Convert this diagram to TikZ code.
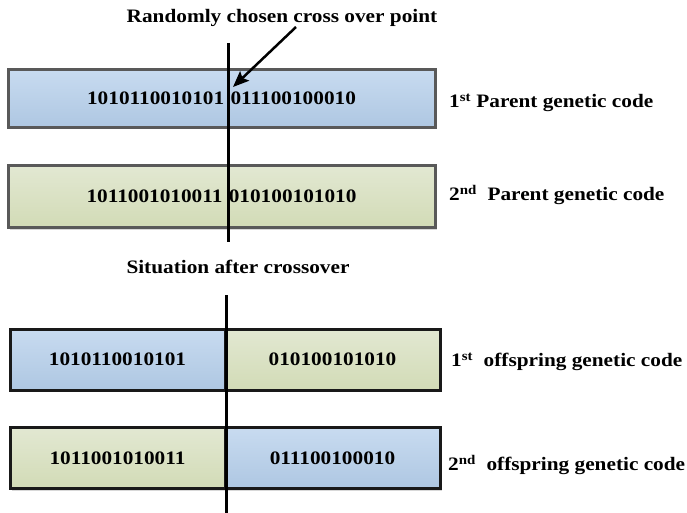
\documentclass[tikz,border=0pt]{standalone}
\usepackage{fontspec}
\setmainfont{Liberation Serif}[FakeStretch=1.12]
\usetikzlibrary{arrows.meta,shadows}
\definecolor{blueTop}{HTML}{C8DBF0}
\definecolor{blueBot}{HTML}{AEC7E2}
\definecolor{greenTop}{HTML}{E2E8D2}
\definecolor{greenBot}{HTML}{D2DBB6}
\tikzset{
  txt/.style={font=\fontsize{19}{22}\selectfont\bfseries, inner sep=0pt},
  softshadow/.style={drop shadow={shadow xshift=2pt, shadow yshift=-2pt, fill=black!30, opacity=0.5}},
  codebox/.style={txt, line width=3pt, minimum width=427pt, softshadow},
  halfbox/.style={txt, line width=3pt, draw=black!90, minimum width=215pt, minimum height=61pt, softshadow},
  bluefill/.style={top color=blueTop, bottom color=blueBot},
  greenfill/.style={top color=greenTop, bottom color=greenBot},
  cutline/.style={line width=3pt, black},
}
\begin{document}
\begin{tikzpicture}[x=1pt,y=-1pt]
\useasboundingbox (0,0) rectangle (687,513);

% parents
\node[txt] (title) at (282,18) {Randomly chosen cross over point};
\node[codebox, draw=black!65, bluefill, minimum height=58pt] (p1) at (221.5,98.5) {1010110010101\,\,011100100010};
\node[codebox, draw=black!65, greenfill, minimum height=62pt] (p2) at (221.5,196.5) {1011001010011\,\,010100101010};
\node[txt, anchor=west] (l1) at (449,103) {1\textsuperscript{st} Parent genetic code};
\node[txt, anchor=west] (l2) at (449,195) {2\textsuperscript{nd}\ \ Parent genetic code};

\coordinate (cutTop) at (228,43);
\coordinate (cutBot) at (228,242);
\draw[cutline] (cutTop) -- (cutBot);

\coordinate (arrTail) at (296,27);
\coordinate (arrTip) at (233,87);
\draw[line width=2.5pt, -{Stealth[length=16pt,width=13pt,inset=3pt]}] (arrTail) -- (arrTip);

% offspring
\node[txt] (after) at (238,267) {Situation after crossover};
\node[halfbox, bluefill] (o1a) at (117.5,359.5) {1010110010101};
\node[halfbox, greenfill] (o1b) at (332.5,359.5) {010100101010};
\node[halfbox, greenfill] (o2a) at (117.5,458) {1011001010011};
\node[halfbox, bluefill] (o2b) at (332.5,458) {011100100010};
\node[txt, anchor=west] (l3) at (451,362) {1\textsuperscript{st}\ \ offspring genetic code};
\node[txt, anchor=west] (l4) at (448,465) {2\textsuperscript{nd}\ \ offspring genetic code};

\coordinate (cut2Top) at (226,295);
\coordinate (cut2Bot) at (226,513);
\draw[cutline] (cut2Top) -- (cut2Bot);
\end{tikzpicture}
\end{document}
